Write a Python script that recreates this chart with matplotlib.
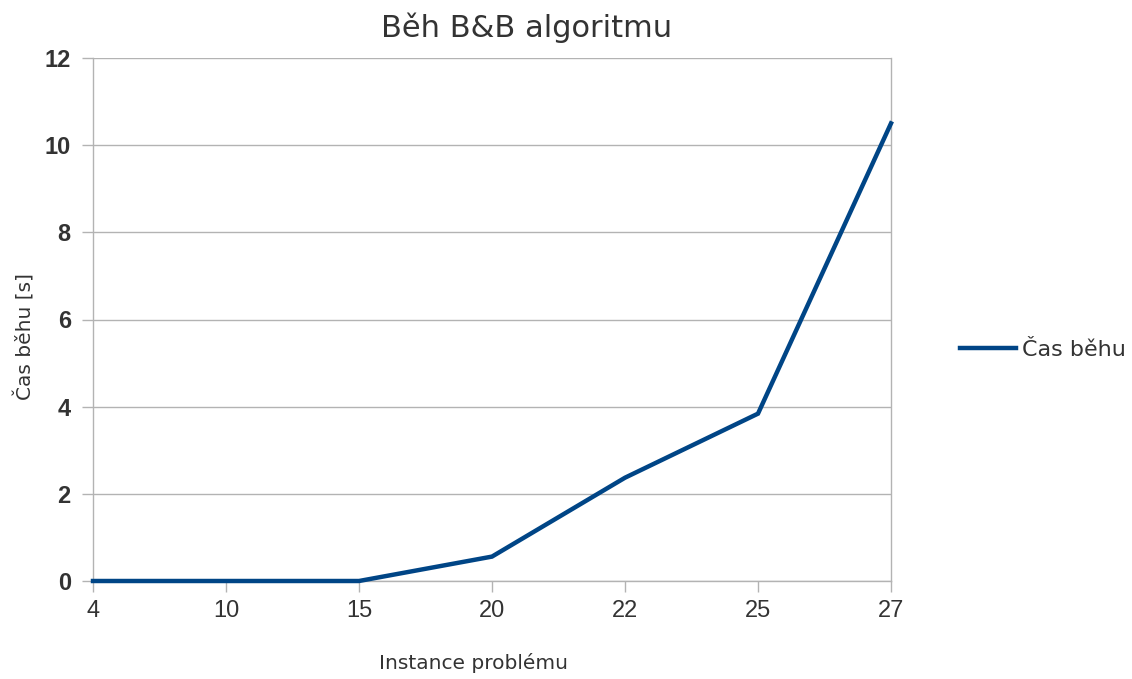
import matplotlib
matplotlib.use("Agg")
import matplotlib.pyplot as plt

categories = ["4", "10", "15", "20", "22", "25", "27"]
run_times = [0.0, 0.0, 0.0, 0.56, 2.37, 3.84, 10.5]
y_ticks = [0, 2, 4, 6, 8, 10, 12]

plt.rcParams['font.family'] = ['Liberation Sans', 'DejaVu Sans']
wide = ['DejaVu Sans']

fig = plt.figure(figsize=(11.32, 6.79), dpi=100)
ax = fig.add_axes([93/1132, 1-581/679, (891-93)/1132, (581-58)/679])

x = list(range(len(categories)))
line, = ax.plot(x, run_times, color='#004586', linewidth=3.2, solid_joinstyle='miter',
                label='Čas běhu', clip_on=False, zorder=3)

ax.set_xlim(0, len(categories) - 1)
ax.set_ylim(0, 12)
ax.set_xticks(x)
ax.set_xticklabels(categories, fontsize=17, color='#333333')
ax.set_yticks(y_ticks)
ax.set_yticklabels([str(v) for v in y_ticks], fontsize=17, fontweight='bold', color='#333333')
ax.tick_params(axis='both', direction='out', length=8, width=1, color='#b3b3b3')
ax.tick_params(axis='x', pad=6)
ax.tick_params(axis='y', pad=8)
ax.grid(axis='y', color='#b3b3b3', linewidth=1)
ax.set_axisbelow(True)
for s in ax.spines.values():
    s.set_color('#b3b3b3')
    s.set_linewidth(1)
ax.spines['top'].set_visible(False)

fig.text(527/1132, 1-28/679, 'Běh B&B algoritmu', fontsize=22, family=wide, color='#333333', ha='center', va='center')
fig.text(473/1132, 1-663/679, 'Instance problému', fontsize=14.5, family=wide, color='#333333', ha='center', va='center')
fig.text(25/1132, 1-337/679, 'Čas běhu [s]', fontsize=14.5, family=wide, color='#333333', ha='center', va='center', rotation=90)

fig.legend(handles=[line], loc='center left', bbox_to_anchor=(940/1132, 1-350/679),
           frameon=False, prop={'family': wide, 'size': 16}, handlelength=2.5, handletextpad=0.3,
           labelcolor='#333333')

fig.savefig('out.png', dpi=100, facecolor='white')
